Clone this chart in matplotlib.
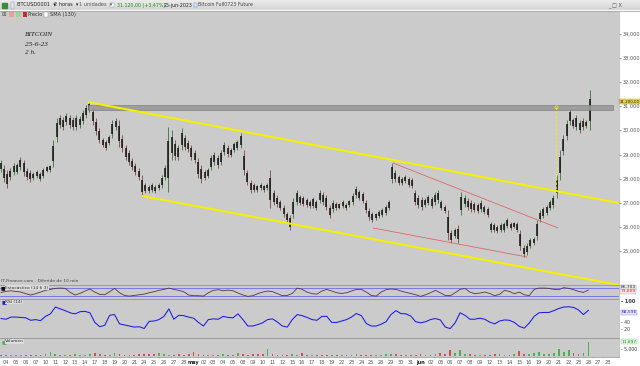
import numpy as np
import matplotlib
matplotlib.use("Agg")
import matplotlib.pyplot as plt
from matplotlib.patches import Rectangle
from matplotlib.transforms import blended_transform_factory

# ---------------- data ----------------
# trading-day labels (index 0 = 04-apr-2023)
day_labels = ["04","05","06","07","10","11","12","13","14","17","18","19","20","21","24","25","26","27","28",
              "may","02","03","04","05","08","09","10","11","12","15","16","17","18","19","22","23","24","25","26","29","30","31",
              "jun","02","05","06","07","08","09","12","13","14","15","16","19","20","21","22","23","26","27","28"]

# price bars (3 per trading day, first bar at day -0.55)
bar_start = -0.55
bars_per_day = 3
high = [28780,28570,28360,28440,28650,28650,28900,28780,28440,28360,28280,28360,28280,28440,28530,28570,
        29600,30520,30640,30560,30720,30640,30560,30640,30600,30850,31060,31180,30930,30520,30100,29690,
        29600,29810,30430,30520,30430,29810,29400,29190,28860,28650,28440,28150,27820,27740,27820,27740,
        27820,28150,28570,30140,30020,29600,29400,30100,29810,29600,29400,29190,28860,28570,28360,28440,
        28980,29110,28980,29190,29520,29400,29270,29520,29600,29890,29190,28360,27950,27820,27740,27820,
        27740,27820,28360,27530,27320,27120,26910,26620,26490,27200,27530,27320,27280,27200,27120,27240,
        27120,27530,27450,27320,26910,27120,27030,26990,27120,26990,27120,27410,27700,27530,27450,27120,
        26780,26620,26580,26700,26780,26910,27120,28650,28360,28150,28070,28150,28070,28030,27530,27320,
        27240,27200,27320,27240,27450,27530,27120,26910,26700,25870,25960,26080,27450,27320,27200,27120,
        27030,26990,27120,26910,26830,26200,26160,26080,26160,26200,26370,26200,26200,26200,25870,25250,
        25330,25540,25580,26290,26700,26830,26910,27120,27320,28150,29190,29810,30430,30890,30520,30640,
        30430,30520,30430,31680]
low = [28280,27860,27610,27950,28150,28190,28360,28110,27950,27860,27950,28030,27900,28030,28280,28280,
       28490,29520,30100,30020,30230,30100,30020,30020,30100,30270,30520,30770,30230,29810,29480,29310,
       29190,29400,29690,30020,29310,29110,28780,28570,28360,28150,27950,27240,27410,27410,27450,27410,
       27530,27610,27950,27450,28780,28780,28780,29190,29190,29110,28780,28650,28030,27820,27950,28030,
       28360,28570,28440,28570,28980,28900,28900,29110,29190,29270,28150,27740,27410,27450,27450,27530,
       27450,27530,26780,26910,26830,26700,26410,26200,25870,26370,26910,26910,26870,26830,26780,26780,
       26700,26990,26910,26700,26370,26620,26700,26740,26780,26700,26830,26910,27200,27120,26990,26580,
       26290,26200,26290,26370,26410,26490,26700,27820,27860,27740,27740,27820,27660,27610,26910,26780,
       26700,26830,26910,26780,26910,26990,26700,26580,25460,25330,25540,25330,26490,26830,26700,26620,
       26620,26580,26620,26540,26410,25790,25790,25750,25790,25790,25960,25870,25960,25790,25040,24750,
       24840,25130,25250,25460,26200,26370,26490,26700,26780,27200,27950,28980,29600,30230,30100,30020,
       29890,30020,30100,30020]

# indicators (2 samples per trading day, first sample at day -0.5)
ind_start = -0.5
ind_per_day = 2
stoch_k = [45,52,57,52,47,35,25,35,47,60,67,75,77,75,45,25,37,55,70,47,30,27,50,75,42,22,17,22,27,32,
           42,50,60,67,77,67,60,50,25,20,20,17,42,60,65,57,62,57,40,25,15,20,35,47,55,50,35,20,22,37,
           77,67,47,35,32,55,67,55,42,37,42,55,67,67,47,22,17,47,65,70,67,55,45,37,27,15,27,42,60,42,
           22,20,42,67,75,47,35,40,47,37,20,30,60,52,35,47,27,20,67,77,77,75,67,65,80,75,65,52,45,62]
rsi = [52,50,56,56,55,54,47,49,46,58,65,84,79,74,68,65,71,72,68,41,29,33,61,63,37,34,31,28,29,24,
       44,45,49,58,79,50,61,60,56,53,41,31,49,51,50,58,55,54,65,49,31,31,35,40,49,51,42,31,28,49,
       63,60,55,49,47,58,58,41,41,45,49,56,66,60,38,31,31,36,43,63,74,66,65,59,43,40,43,49,52,48,
       28,24,40,68,61,50,50,53,50,42,37,45,48,47,41,30,25,39,58,68,69,69,74,80,84,85,83,76,63,75]
volume = [900,700,1100,800,600,900,1200,800,700,1500,3200,1800,1200,900,1000,1400,1100,800,1300,2600,
          1800,1200,1000,2100,1400,1000,900,1200,1500,1300,1800,1400,2600,1500,1200,1000,1400,1100,1300,3100,
          1600,1200,1000,900,1100,1300,900,1000,2600,1300,1100,1400,1800,1500,6000,1500,1000,900,1100,1400,
          1200,2600,1200,900,800,1000,1100,900,700,800,1000,900,1300,1100,800,900,1200,1000,1500,2000,
          1300,1100,900,800,1200,1400,1000,1100,1300,2200,1500,4600,2500,5000,1800,1300,1000,900,1100,1200,
          1500,1300,1100,1000,1800,4000,2000,1700,2200,3600,2000,1900,2500,5600,3000,5000,2500,2000,2600,11897]

# drawn objects (day, price)
upper_channel = [(8.3, 31180), (62.1, 26990)]
lower_channel = [(13.78, 27280), (62.1, 23590)]
wedge_upper = [(39.2, 28650), (55.93, 25955)]
wedge_lower = [(37.18, 25955), (52.79, 24752)]
resist_band = (8.3, 61.5, 30850, 31040)
breakout_day = 55.7
price_ticks = [25000, 26000, 27000, 28000, 29000, 30000, 31000, 32000, 33000, 34000]

# ---------------- layout helpers ----------------
W, H = 640, 366
fig = plt.figure(figsize=(6.4, 3.66), dpi=100)
fig.patch.set_facecolor("white")
BG = "#cbcbcb"
XL = (-0.608, 62.1)


def ax_px(x0, y0, x1, y1, **kw):
    return fig.add_axes([x0 / W, 1 - y1 / H, (x1 - x0) / W, (y1 - y0) / H], **kw)


def ftext(x, y, s, **kw):
    kw.setdefault("fontsize", 3.6)
    kw.setdefault("va", "center")
    return fig.text(x / W, 1 - y / H, s, **kw)


def clean(ax):
    for sp in ax.spines.values():
        sp.set_visible(False)
    ax.set_xticks([])
    ax.set_yticks([])

# ---------------- toolbar ----------------
tb = ax_px(0, 0, 640, 10.5)
tb.imshow(np.linspace(0.93, 0.83, 20)[:, None], cmap="gray", vmin=0, vmax=1,
          extent=[0, 640, 10.5, 0], aspect="auto")
tb.set_xlim(0, 640); tb.set_ylim(10.5, 0)
clean(tb)
tb.add_patch(Rectangle((2, 2.5), 5, 5.5, color="#3c8c3c"))
tb.add_patch(Rectangle((10.5, 1.5), 3, 7, facecolor="#e8e8f4", edgecolor="#8080b0", lw=0.3))
ftext(17, 5, "BTCUSD0001  \u25be", color="#222")
ftext(54, 5, "2 horas  \u25be", color="#222")
ftext(79, 5, "1 unidades  \u25be", color="#555")
tb.add_patch(Rectangle((110, 2.5), 4, 4.5, facecolor="white", edgecolor="#888", lw=0.3))
ftext(117, 5, "31.120,00 (+3,47%)", color="#1e8c1e", fontsize=3.4)
ftext(164, 5, "25-jun-2023", color="#222", fontsize=3.4)
tb.add_patch(Rectangle((194, 3), 3, 3.5, facecolor="#dde8ff", edgecolor="#5577cc", lw=0.3))
ftext(198, 5, "Bitcoin Full0723 Future", color="#444", fontsize=3.4)
ftext(608, 5, "_ \u25a1 X", color="#555")
fig.add_artist(plt.Line2D([0, 1], [1 - 10.5 / H] * 2, color="#9a9a9a", lw=0.5))

# ---------------- main price panel ----------------
ax = ax_px(0, 11, 619, 285)
ax.set_facecolor(BG)
ax.set_xlim(*XL)
ax.set_ylim(23591, 34954)
for sp in ax.spines.values():
    sp.set_visible(False)
ax.set_xticks([])
ax.yaxis.tick_right()
ax.set_yticks(price_ticks)
ax.set_yticklabels([f"{v // 1000}.{v % 1000:03d}" for v in price_ticks])
ax.tick_params(axis="y", length=1.5, width=0.4, pad=1, labelsize=3.6, colors="#555")

hi = np.array(high, float)
lo = np.array(low, float)
tb_ = bar_start + np.arange(len(hi)) / bars_per_day
mid = (hi + lo) / 2
up = np.r_[True, mid[1:] >= mid[:-1]]
wick_c = np.where(up, "#2e6a2e", "#7a3a3a")
ax.vlines(tb_, lo, hi, colors=wick_c, lw=0.55, zorder=3)
rng = hi - lo
ax.vlines(tb_, lo + 0.22 * rng, hi - 0.22 * rng, colors="#111111", lw=1.1, zorder=4)

# resistance band
b0, b1, p0, p1 = resist_band
ax.add_patch(Rectangle((b0, p0), b1 - b0, p1 - p0, facecolor="#9a9a9a",
                       edgecolor="#6e6e6e", lw=0.4, alpha=0.9, zorder=5))
# channels
for seg, c, lw in [(upper_channel, "#f4f000", 1.5), (lower_channel, "#f4f000", 1.5),
                   (wedge_upper, "#e06060", 0.55), (wedge_lower, "#e06060", 0.55)]:
    (x0, y0), (x1, y1) = seg
    ax.plot([x0, x1], [y0, y1], color=c, lw=lw, solid_capstyle="butt", zorder=6)
# breakout dashed line
(ux0, uy0), (ux1, uy1) = upper_channel
yb = uy0 + (breakout_day - ux0) * (uy1 - uy0) / (ux1 - ux0)
ax.plot([breakout_day, breakout_day], [p1 - 60, yb], color="#f4f000", lw=0.6,
        ls=(0, (3, 2)), zorder=6)
ax.plot([breakout_day], [p1 - 80], marker="o", ms=2.2, mfc="none", mec="#f4f000", mew=0.5, zorder=7)

# 31.200 label
trans = blended_transform_factory(ax.transAxes, ax.transData)
ax.text(1.0008, 31200, "31.200,00", transform=trans, fontsize=2.8, va="center", ha="left",
        color="#222", bbox=dict(boxstyle="square,pad=0.05", fc="#f0cf3a", ec="#c8a020", lw=0.3),
        clip_on=False)

# annotations
ftext(25, 35, "BITCOIN", fontsize=5.2, style="italic", family="Liberation Serif", color="#222")
ftext(25, 44, "25-6-23", fontsize=5.2, style="italic", family="Liberation Serif", color="#222")
ftext(25, 53, "2 h.", fontsize=5.2, style="italic", family="Liberation Serif", color="#222")
# second toolbar row (inside chart)
ftext(1.5, 14.5, "\u229e", fontsize=4, color="#555")
fig.add_artist(Rectangle((9 / W, 1 - 17 / H), 5 / W, 5 / H, transform=fig.transFigure,
                         facecolor="#e8a0a0", edgecolor="none"))
fig.add_artist(Rectangle((16 / W, 1 - 17 / H), 5 / W, 5 / H, transform=fig.transFigure,
                         facecolor="#a0d0a0", edgecolor="none"))
fig.add_artist(Rectangle((23 / W, 1 - 17 / H), 4 / W, 5 / H, transform=fig.transFigure,
                         facecolor="#c03030", edgecolor="none"))
ftext(28, 14.5, "Precio", color="#333")
fig.add_artist(Rectangle((44 / W, 1 - 16.8 / H), 4 / W, 4.5 / H, transform=fig.transFigure,
                         facecolor="white", edgecolor="#888", lw=0.3))
ftext(50, 14.5, "SMA (130)", color="#333")
ftext(1, 281.5, "IT-Finance.com - Diferido de 10 min", fontsize=3.2, color="#444")

it = ind_start + np.arange(len(rsi)) / ind_per_day

# ---------------- stochastic ----------------
st = ax_px(0, 285, 619, 298.5)
st.set_facecolor(BG)
st.set_xlim(*XL); st.set_ylim(-1, 100)
clean(st)
st.axhline(80, color="#6a6af0", lw=0.6)
st.axhline(20, color="#6a6af0", lw=0.6)
st.plot(it, stoch_k, color="#5a3636", lw=0.6)
ftext(1, 287.6, "\u25a0", fontsize=3.6, color="#111")
ftext(5, 287.6, "Estocástico (14 6 3)", fontsize=3.2, color="#333",
      bbox=dict(boxstyle="square,pad=0.1", fc="#dcdcdc", ec="none"))
ftext(620.5, 287.5, "86,703", fontsize=3.2, color="#333",
      bbox=dict(boxstyle="square,pad=0.1", fc="#e8e8e8", ec="#999", lw=0.3))
ftext(620.5, 291.5, "73,809", fontsize=3.2, color="#c03030",
      bbox=dict(boxstyle="square,pad=0.1", fc="#f4e8e8", ec="#c99", lw=0.3))

# ---------------- RSI ----------------
ra = ax_px(0, 298.5, 619, 338)
ra.set_facecolor(BG)
ra.set_xlim(*XL); ra.set_ylim(-2.5, 108)
clean(ra)
ra.plot(it, rsi, color="#1a1ae6", lw=0.75)
ftext(1, 302, "\u25a0", fontsize=3.8, color="#1a1ae6")
ftext(5, 302, "RSI (14)", fontsize=3.2, color="#333",
      bbox=dict(boxstyle="square,pad=0.1", fc="#dcdcdc", ec="none"))
rtrans = blended_transform_factory(ra.transAxes, ra.transData)
for v, s, fw in [(100, "100", "bold"), (40, "40", "normal"), (20, "20", "normal")]:
    ra.text(1.004, v, "- " + s, transform=rtrans, fontsize=3.6 if v == 100 else 3.3,
            fontweight=fw, color="#333", va="center", clip_on=False)
ra.text(1.004, rsi[-1] - 6, "68,596", transform=rtrans, fontsize=3.2, color="#2a2ad0",
        va="center", clip_on=False,
        bbox=dict(boxstyle="square,pad=0.1", fc="#e4e4f8", ec="#8888cc", lw=0.3))

# ---------------- volume ----------------
va_ = ax_px(0, 338, 619, 356.5)
va_.set_facecolor(BG)
va_.set_xlim(*XL); va_.set_ylim(-420, 15000)
clean(va_)
vol = np.array(volume, float)
bidx = np.clip(np.round((it - bar_start) * bars_per_day).astype(int), 1, len(mid) - 1)
vup = mid[bidx] >= mid[bidx - 1]
va_.bar(it, vol, width=0.18, color=np.where(vup, "#4caf50", "#d05050"), lw=0)
ftext(1, 341.5, "\u25a0", fontsize=3.8, color="#4caf50")
ftext(5, 341.5, "Volumen", fontsize=3.2, color="#333",
      bbox=dict(boxstyle="square,pad=0.1", fc="#dcdcdc", ec="none"))
vtrans = blended_transform_factory(va_.transAxes, va_.transData)
va_.text(1.004, vol[-1], "11.897", transform=vtrans, fontsize=3.2, color="#1e8c1e",
         va="center", clip_on=False,
         bbox=dict(boxstyle="square,pad=0.1", fc="#e4f4e4", ec="#8c8", lw=0.3))
va_.text(1.004, 5000, "- 5.000", transform=vtrans, fontsize=3.3, color="#333",
         va="center", clip_on=False)

# ---------------- date strip ----------------
xa = ax_px(0, 356.5, 619, 366)
xa.set_facecolor("white")
xa.set_xlim(*XL); xa.set_ylim(0, 1)
clean(xa)
for i, lab in enumerate(day_labels):
    bold = lab in ("may", "jun")
    xa.text(i, 0.42, lab, fontsize=3.6, ha="center", va="center",
            color="#222" if bold else "#555", fontweight="bold" if bold else "normal")
    xa.plot([i - 0.5, i - 0.5], [0.8, 1.0], color="#aaa", lw=0.3)

# separators
for yy in [285, 298.5, 338, 356.5]:
    fig.add_artist(plt.Line2D([0, 619 / W], [1 - yy / H] * 2, color="#8a8a8a", lw=0.5))
fig.add_artist(plt.Line2D([619 / W] * 2, [1 - 11 / H, 1 - 356.5 / H], color="#9a9a9a", lw=0.4))

fig.savefig("out.png", dpi=100, facecolor="white")
